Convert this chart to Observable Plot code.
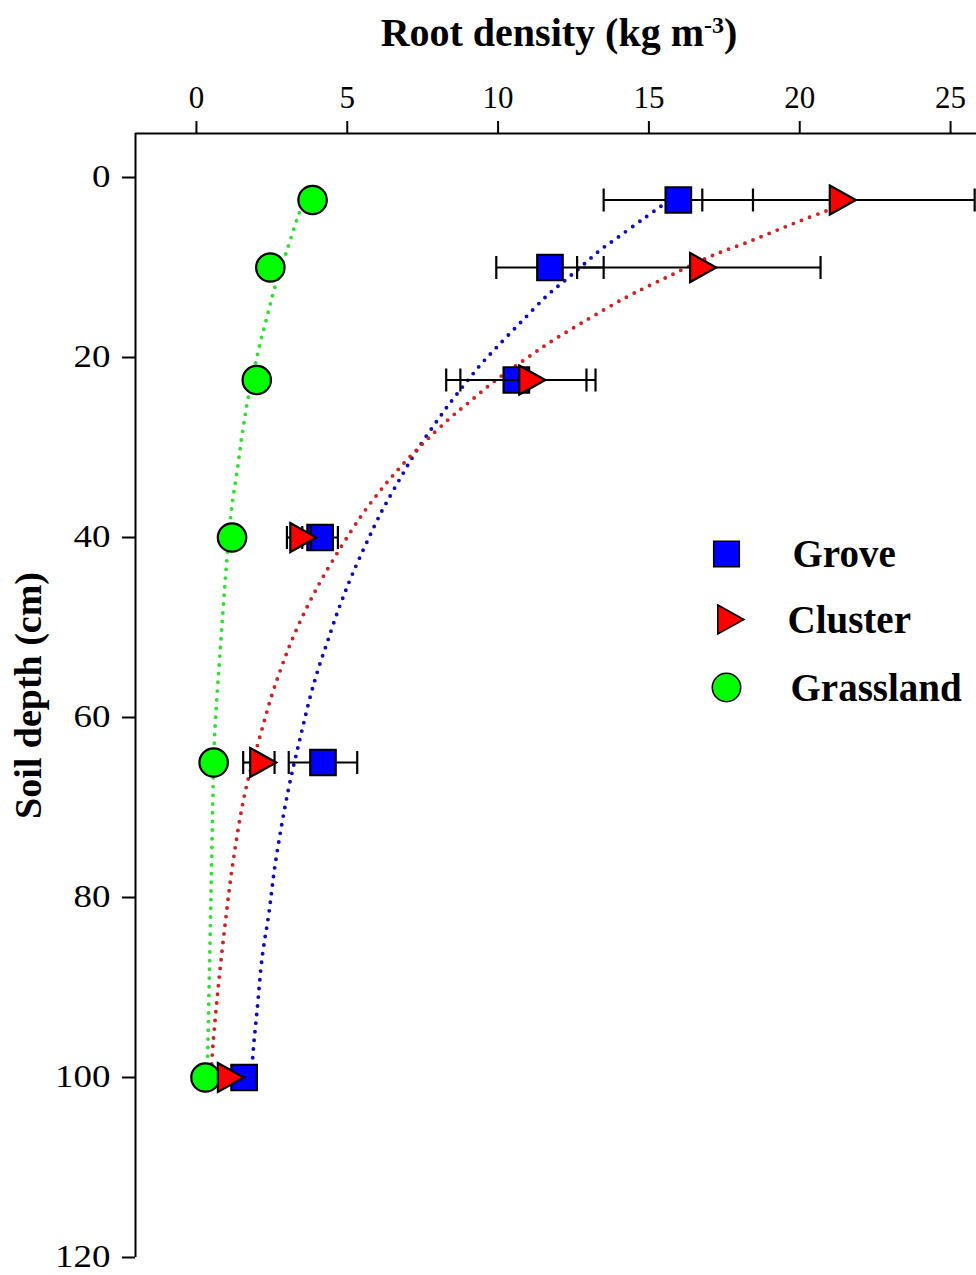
<!DOCTYPE html>
<html>
<head>
<meta charset="utf-8">
<script src="https://cdn.jsdelivr.net/npm/d3@7"></script>
<script src="https://cdn.jsdelivr.net/npm/@observablehq/plot@0.6"></script>
<style>
  body { margin: 0; background: #fff; }
  #wrap { position: relative; width: 976px; height: 1275px; font-family: "Liberation Serif", "Times New Roman", serif; }
  #xtitle { position: absolute; z-index: 2; left: 0; top: 13px; width: 1118px; text-align: center; font-size: 40px; font-weight: bold; line-height: 1; white-space: nowrap; }
  #xtitle .sup { position: relative; top: -0.55em; font-size: 0.6em; line-height: 0; }
  #wrap svg { position: absolute; left: 0; top: 0; z-index: 1; }
</style>
</head>
<body>
<div id="wrap"><div id="xtitle">Root density (kg m<span class="sup">-3</span>)</div></div>
<script>
// ---- data ----
const depths = [2.5, 10, 22.5, 40, 65, 100];
const groveMean = [15.975, 11.72, 10.605, 4.1, 4.195, 1.58];
const groveErr = [2.475, 1.78, 2.325, 0.59, 1.135, 0];
const clusterMean = [21.285, 16.655, 10.99, 3.4, 2.07, 1.0];
const clusterErr = [4.515, 4.035, 2.24, 0.4, 0.52, 0];
const grassMean = [3.85, 2.45, 2.0, 1.18, 0.57, 0.3];

// fitted (dotted) curves: [depth, density]
const groveCurve = [[3.2,15.4],[4.6,14.81],[6.7,13.95],[8.1,13.37],[9.8,12.79],[11.4,12.23],[13.1,11.63],[16,10.78],[18.8,9.97],[20.8,9.42],[22.6,8.98],[24.6,8.51],[26.6,8.07],[30.4,7.29],[33.4,6.76],[36.3,6.27],[38.1,5.99],[44,5.18],[47.9,4.72],[51.7,4.33],[54.7,4.03],[57.6,3.78],[62.4,3.43],[68.3,3.03],[76.1,2.62],[81.8,2.40],[86.6,2.18],[92.6,2.01],[96.3,1.90],[100,1.82]];
const clusterCurve = [[3.0,21.4],[3.67,20.91],[4.8,20.03],[6,19.14],[7.2,18.26],[8.2,17.45],[9.2,16.75],[10.9,15.7],[12.2,14.9],[13.3,14.25],[16,12.85],[18.5,11.63],[19.8,11.07],[22.6,9.89],[25,9.03],[26.6,8.45],[29.3,7.59],[31.3,7.0],[33.2,6.49],[35.1,6.02],[38,5.38],[43.9,4.28],[47.7,3.67],[51.6,3.14],[54.5,2.81],[57.4,2.51],[62.3,2.09],[68.2,1.62],[75.9,1.22],[82.7,0.96],[89.4,0.74],[96.3,0.55],[100,0.48]];
const grassCurve = [[3,3.5],[4.4,3.36],[8.3,2.98],[12.3,2.59],[15.1,2.37],[19,2.07],[24.8,1.70],[28.7,1.51],[32.6,1.35],[36.4,1.18],[40,1.07],[45,0.95],[52,0.8],[61.6,0.61],[68.4,0.55],[75,0.51],[82,0.47],[90,0.42],[96.6,0.38],[100,0.36]];

const xTicks = [0, 5, 10, 15, 20, 25];
const yTicks = [0, 20, 40, 60, 80, 100, 120];
const xDomain = [-2.02, 25.86];
const yDomain = [-4.89, 120];

const seriesNames = ["Grove", "Cluster", "Grassland"];

// ---- build tables ----
const rows = (means, errs, name) => depths.map((d, i) => ({depth: d, mean: means[i], err: errs ? errs[i] : 0, series: name}));
const grove = rows(groveMean, groveErr, "Grove");
const cluster = rows(clusterMean, clusterErr, "Cluster");
const grass = rows(grassMean, null, "Grassland");
const curve = (arr) => arr.map(([d, v]) => ({depth: d, value: v}));
const caps = (tbl) => tbl.filter(r => r.err > 0).flatMap(r => [{depth: r.depth, x: r.mean - r.err}, {depth: r.depth, x: r.mean + r.err}]);

// ---- symbols ----
const capSymbol = { draw(ctx, size) { const r = Math.sqrt(size / Math.PI); ctx.moveTo(0, -r); ctx.lineTo(0, r); } };
const triRight = { draw(ctx, size) { const r = Math.sqrt(size / Math.PI); ctx.moveTo(-0.6 * r, -r); ctx.lineTo(1.2 * r, 0); ctx.lineTo(-0.6 * r, r); ctx.closePath(); } };

const styles = {
  Grove: {symbol: "square", fill: "#0000ff", line: "#0c0cb8", r: 14.4},
  Cluster: {symbol: triRight, fill: "#ff0000", line: "#cc2424", r: 14.5},
  Grassland: {symbol: "circle", fill: "#00ff00", line: "#33dd33", r: 14.2}
};

const dotted = (data, color) => Plot.line(data, {x: "value", y: "depth", stroke: color, strokeWidth: 3.9, strokeDasharray: "0 8.7", strokeLinecap: "round", curve: "catmull-rom"});
const bars = (tbl) => [
  Plot.link(tbl.filter(r => r.err > 0), {x1: r => r.mean - r.err, x2: r => r.mean + r.err, y1: "depth", y2: "depth", stroke: "black", strokeWidth: 2.2}),
  Plot.dot(caps(tbl), {x: "x", y: "depth", symbol: capSymbol, r: 11.5, stroke: "black", strokeWidth: 2.2})
];
const markers = (tbl, s) => Plot.dot(tbl, {x: "mean", y: "depth", symbol: s.symbol, r: s.r, fill: s.fill, stroke: "black", strokeWidth: 2.2});

// legend layout (pixels relative to frame top-left at 135,133)
const legendMarkerDx = 591, legendMarkerDy = [420.5, 486, 554];
const legendTextDx = [657, 652, 655];

const legendMarks = seriesNames.flatMap((name, i) => {
  const s = styles[name];
  return [
    Plot.dot([name], {frameAnchor: "top-left", dx: legendMarkerDx, dy: legendMarkerDy[i], symbol: s.symbol, r: s.r, fill: s.fill, stroke: "black", strokeWidth: 1.6}),
    Plot.text([name], {frameAnchor: "top-left", dx: legendTextDx[i], dy: legendMarkerDy[i] + 1, text: d => d, textAnchor: "start", lineAnchor: "middle", fontSize: 39, fontWeight: "bold", fontFamily: "Liberation Serif", fill: "black"})
  ];
});

const chart = Plot.plot({
  width: 976,
  height: 1275,
  marginTop: 133,
  marginLeft: 135,
  marginRight: 0,
  marginBottom: 18,
  style: {fontFamily: "Liberation Serif", background: "transparent", color: "black"},
  x: {domain: xDomain},
  y: {domain: yDomain, reverse: true},
  marks: [
    Plot.axisX({anchor: "top", ticks: xTicks, tickSize: 13, tickPadding: 13, fontSize: 31, strokeWidth: 2, label: null, tickFormat: d => String(d)}),
    Plot.axisY({anchor: "left", ticks: yTicks, tickSize: 13, tickPadding: 12, fontSize: 31, strokeWidth: 2, label: null, tickFormat: d => String(d)}),
    Plot.ruleX([xDomain[0]], {stroke: "black", strokeWidth: 2}),
    Plot.ruleY([yDomain[0]], {stroke: "black", strokeWidth: 2}),
    Plot.text(["Soil depth (cm)"], {frameAnchor: "left", dx: -107, rotate: -90, text: d => d, lineAnchor: "middle", textAnchor: "middle", fontSize: 38, fontWeight: "bold", fontFamily: "Liberation Serif", fill: "black"}),
    dotted(curve(grassCurve), styles.Grassland.line),
    dotted(curve(groveCurve), styles.Grove.line),
    dotted(curve(clusterCurve), styles.Cluster.line),
    markers(grass, styles.Grassland),
    ...bars(grove),
    markers(grove, styles.Grove),
    ...bars(cluster),
    markers(cluster, styles.Cluster),
    ...legendMarks
  ]
});
// the reference's depth labels are drawn horizontally stretched
d3.select(chart).selectAll('g[aria-label="y-axis tick label"] text').each(function() {
  const n = this.textContent.length;
  this.setAttribute("textLength", n * 18.5);
  this.setAttribute("lengthAdjust", "spacingAndGlyphs");
});
document.getElementById("wrap").appendChild(chart);
</script>
</body>
</html>
